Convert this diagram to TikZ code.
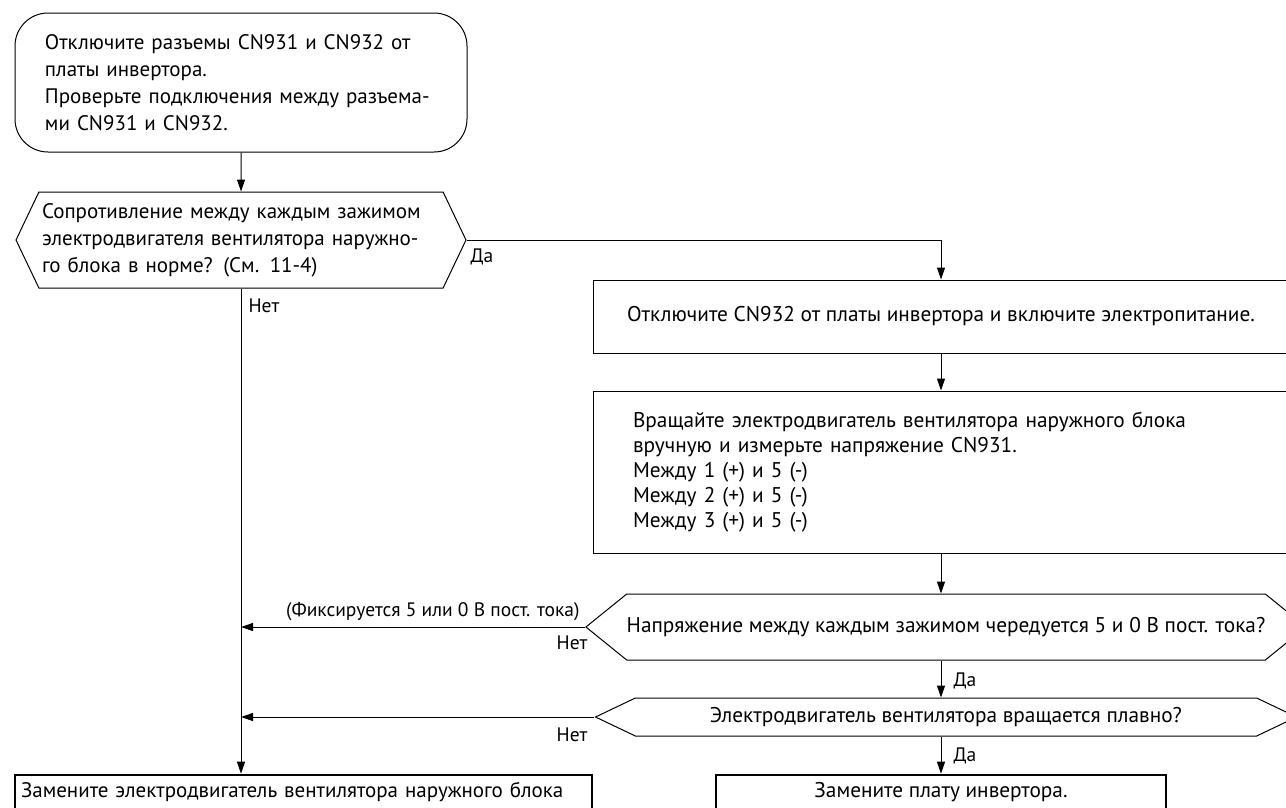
\documentclass[tikz,border=0pt]{standalone}
\usepackage{fontspec}
\setmainfont{PT Sans}
\usetikzlibrary{arrows.meta,positioning,shapes.symbols}

\begin{document}
\begin{tikzpicture}[x=1pt,y=-1pt,line width=1pt,
  font=\fontsize{21}{27}\selectfont,
  >={Triangle[length=12pt,width=8pt]},
  startbox/.style={draw,rounded corners=33pt,inner sep=0pt,minimum width=452pt,minimum height=139pt,text width=392pt,align=left},
  procbox/.style={draw,inner sep=0pt,minimum width=696pt,font=\fontsize{21.3}{25}\selectfont},
  endbox/.style={draw,line width=2.6pt,inner sep=0pt,minimum height=35pt},
  decision/.style={draw,signal,signal to=west and east,inner sep=0pt},
  lbl/.style={inner sep=0pt,font=\fontsize{19.5}{24}\selectfont}]
  \useasboundingbox (0,0) rectangle (1286,807);
  \clip (0,0) rectangle (1286,807);
  % left column
  \node[startbox] (start) at (241,82.5) {Отключите разъемы CN931 и CN932 от\\платы инвертора.\\Проверьте подключения между разъема-\\ми CN931 и CN932.};
  \node[decision,signal pointer angle=129,minimum width=450pt,minimum height=96pt,text width=398pt,align=left] (q1) at (241,240)
    {Сопротивление между каждым зажимом\\электродвигателя вентилятора наружно-\\го блока в норме? (См. 11-4)};
  % right column
  \node[procbox,minimum height=73pt] (b2) at (941,316.5) {Отключите CN932 от платы инвертора и включите электропитание.};
  \node[procbox,minimum height=162pt,text width=616pt,align=left] (b3) at (941,472)
    {Вращайте электродвигатель вентилятора наружного блока\\вручную и измерьте напряжение CN931.\\Между 1 (+) и 5 (-)\\Между 2 (+) и 5 (-)\\Между 3 (+) и 5 (-)};
  \node[decision,signal pointer angle=78,minimum width=703pt,minimum height=66pt,font=\fontsize{21.3}{25}\selectfont] (q3) at (946,627)
    {Напряжение между каждым зажимом чередуется 5 и 0 В пост. тока?};
  \node[decision,signal pointer angle=51,minimum width=701pt,minimum height=38pt,font=\fontsize{21.3}{25}\selectfont] (q4) at (946,717)
    {Электродвигатель вентилятора вращается плавно?};
  % results
  \node[endbox,minimum width=577pt,text width=565pt,align=left] (endL) at (303.5,792.5) {Замените электродвигатель вентилятора наружного блока};
  \node[endbox,minimum width=450pt,font=\fontsize{21.3}{25}\selectfont] (endR) at (941,792.5) {Замените плату инвертора.};
  % connectors
  \draw[->] (start) -- (q1);
  \draw[->] (q1.east) -| (b2.north);
  \draw[->] (b2) -- (b3);
  \draw[->] (b3.south) -- (b3.south |- q3.north);
  \draw[->] (b3.south |- q3.south) -- (b3.south |- q4.north);
  \draw[->] (b3.south |- q4.south) -- (endR.north);
  \draw[->] (q1.south) -- (q1.south |- endL.north);
  \draw[->] (q3.west) -- (q3.west -| q1.south);
  \draw[->] (q4.west) -- (q4.west -| q1.south);
  % labels
  \node[lbl,anchor=west] (da1) at (470,257) {Да};
  \node[lbl,anchor=west] (net1) at (248,306) {Нет};
  \node[lbl,anchor=east] (fix) at (580,612) {(Фиксируется 5 или 0 В пост. тока)};
  \node[lbl,anchor=east] (net3) at (588,643) {Нет};
  \node[lbl,anchor=west] (da3) at (953,681) {Да};
  \node[lbl,anchor=east] (net4) at (588,735) {Нет};
  \node[lbl,anchor=west] (da4) at (953,756) {Да};
\end{tikzpicture}
\end{document}
